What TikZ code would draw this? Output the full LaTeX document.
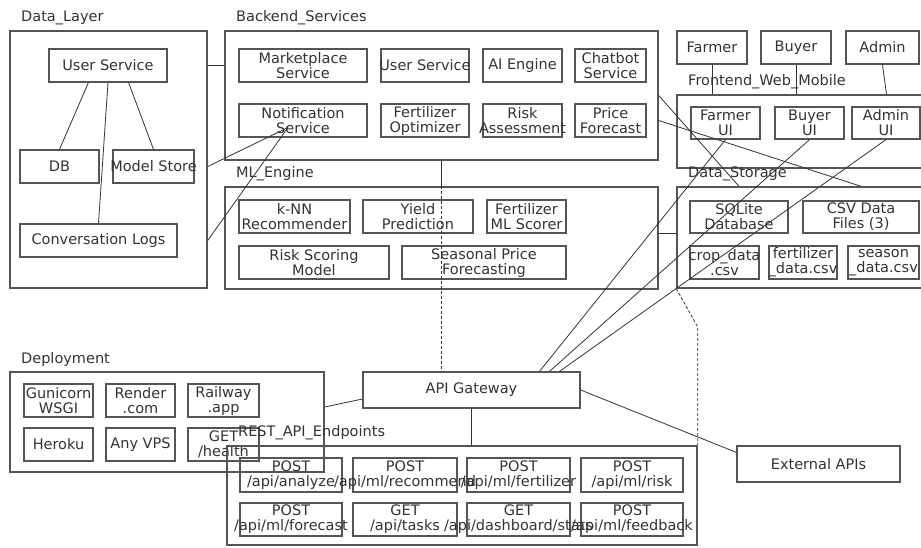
\documentclass[tikz,border=0pt]{standalone}
\usepackage{fontspec}
\setmainfont{DejaVu Sans}
\usetikzlibrary{calc}
\definecolor{inkgray}{HTML}{333333}
\definecolor{rimgray}{HTML}{555555}
\tikzset{
    svcBox/.style={rectangle, draw=rimgray, line width=1.2pt, inner sep=0pt},
    grpBox/.style={rectangle, draw=rimgray, line width=1.4pt, inner sep=0pt},
    grpTitle/.style={anchor=west, inner sep=0pt, text=inkgray},
    link/.style={draw=inkgray, line width=0.8pt},
    dashLink/.style={link, dash pattern=on 3pt off 2pt},
}
\newcommand{\svcNode}[6]{
    \node[svcBox, minimum width={#4-#2}, minimum height={#5-#3},
        label={[align=center, text=inkgray, inner sep=0pt]center:#6}] (#1) at ({(#2+#4)/2}, {(#3+#5)/2}) {};
}
\newcommand{\grpNode}[6]{
    \node[grpBox, minimum width={#4-#2}, minimum height={#5-#3}] (#1) at ({(#2+#4)/2}, {(#3+#5)/2}) {};
    \node[grpTitle] (#1T) at (#2+11, #3-13) {#6};
}

\begin{document}
\begin{tikzpicture}[x=1pt, y=-1pt, font=\fontsize{14.5}{15}\selectfont]
    \useasboundingbox (0,0) rectangle (921,547);

    % Data_Layer
    \grpNode{dl}{10}{31}{207}{288}{Data\_Layer}
    \svcNode{dlUser}{49}{49}{167}{82}{User Service}
    \svcNode{dlDb}{20}{150}{99}{183}{DB}
    \svcNode{dlStore}{113}{150}{194}{183}{Model Store}
    \svcNode{dlLogs}{20}{224}{177}{257}{Conversation Logs}

    % Backend_Services
    \grpNode{be}{225}{31}{658}{160}{Backend\_Services}
    \svcNode{beMarket}{239}{49}{367}{82}{Marketplace\\Service}
    \svcNode{beUser}{381}{49}{469}{82}{User Service}
    \svcNode{beAi}{483}{49}{562}{82}{AI Engine}
    \svcNode{beChat}{575}{49}{646}{82}{Chatbot\\Service}
    \svcNode{beNotif}{239}{104}{367}{137}{Notification\\Service}
    \svcNode{beFert}{381}{104}{469}{137}{Fertilizer\\Optimizer}
    \svcNode{beRisk}{483}{104}{562}{137}{Risk\\Assessment}
    \svcNode{bePrice}{575}{104}{646}{137}{Price\\Forecast}

    % ML_Engine
    \grpNode{ml}{225}{187}{658}{289}{ML\_Engine}
    \svcNode{mlKnn}{239}{200}{350}{233}{k-NN\\Recommender}
    \svcNode{mlYield}{363}{200}{473}{233}{Yield\\Prediction}
    \svcNode{mlFert}{487}{200}{566}{233}{Fertilizer\\ML Scorer}
    \svcNode{mlRisk}{239}{246}{389}{279}{Risk Scoring\\Model}
    \svcNode{mlSeason}{402}{246}{566}{279}{Seasonal Price\\Forecasting}

    % users and Frontend_Web_Mobile
    \svcNode{usFarmer}{677}{31}{747}{64}{Farmer}
    \svcNode{usBuyer}{761}{31}{831}{64}{Buyer}
    \svcNode{usAdmin}{846}{31}{919}{64}{Admin}
    \grpNode{fe}{677}{95}{940}{168}{Frontend\_Web\_Mobile}
    \svcNode{feFarmerUi}{691}{107}{760}{139}{Farmer\\UI}
    \svcNode{feBuyerUi}{775}{107}{844}{139}{Buyer\\UI}
    \svcNode{feAdminUi}{852}{107}{920}{139}{Admin\\UI}

    % Data_Storage
    \grpNode{ds}{677}{187}{940}{288}{Data\_Storage}
    \svcNode{dsSql}{690}{201}{788}{233}{SQLite\\Database}
    \svcNode{dsCsv}{803}{201}{919}{233}{CSV Data\\Files (3)}
    \svcNode{dsCrop}{690}{246}{759}{279}{crop\_data\\.csv}
    \svcNode{dsFert}{769}{246}{837}{279}{fertilizer\\\_data.csv}
    \svcNode{dsSeason}{848}{246}{919}{279}{season\\\_data.csv}

    % Deployment
    \grpNode{dep}{10}{372}{324}{472}{Deployment}
    \svcNode{depGuni}{24}{384}{93}{417}{Gunicorn\\WSGI}
    \svcNode{depRender}{106}{384}{175}{417}{Render\\.com}
    \svcNode{depRail}{188}{384}{259}{417}{Railway\\.app}
    \svcNode{depHeroku}{24}{428}{93}{461}{Heroku}
    \svcNode{depVps}{106}{428}{175}{461}{Any VPS}
    \svcNode{depHealth}{188}{428}{259}{461}{GET\\/health}

    % gateway and external
    \svcNode{gw}{363}{372}{580}{408}{API Gateway}
    \svcNode{ext}{737}{446}{900}{482}{External APIs}

    % REST_API_Endpoints
    \grpNode{rest}{227}{446}{697}{545}{REST\_API\_Endpoints}
    \svcNode{apiAnalyze}{240}{458}{342}{492}{POST\\/api/analyze}
    \svcNode{apiRecommend}{353}{458}{457}{492}{POST\\/api/ml/recommend}
    \svcNode{apiFert}{467}{458}{570}{492}{POST\\/api/ml/fertilizer}
    \svcNode{apiRisk}{581}{458}{683}{492}{POST\\/api/ml/risk}
    \svcNode{apiForecast}{240}{503}{342}{536}{POST\\/api/ml/forecast}
    \svcNode{apiTasks}{353}{503}{457}{536}{GET\\/api/tasks}
    \svcNode{apiStats}{467}{503}{570}{536}{GET\\/api/dashboard/stats}
    \svcNode{apiFeedback}{581}{503}{683}{536}{POST\\/api/ml/feedback}

    % links
    \draw[link] (dlUser -| dl.east) -- (dlUser -| be.west);
    \draw[link] ([xshift=40]dlUser.south west) -- (dlDb.north);
    \draw[link] ([xshift=-39]dlUser.south east) -- (dlStore.north);
    \draw[link] (dlUser.south) -- (dlLogs.north);
    \draw[link] (dlStore -| dl.east) -- ([shift={(-15,7)}]beNotif.center);
    \draw[link] (dlLogs -| dl.east) -- ([shift={(-15,7)}]beNotif.center);
    \draw[link] (be.east) -- (dsSql |- ds.north);
    \draw[link] (bePrice -| be.east) -- (dsCsv |- ds.north);
    \draw[link] (usFarmer.south) -- (usFarmer.south |- fe.north);
    \draw[link] (usBuyer.south) -- (usBuyer.south |- fe.north);
    \draw[link] (usAdmin.south) -- ([xshift=4]usAdmin.south |- fe.north);
    \draw[link] ([xshift=68]gw.north) -- (feFarmerUi.south);
    \draw[link] ([xshift=78]gw.north) -- (feBuyerUi.south);
    \draw[link] ([xshift=88]gw.north) -- (feAdminUi.south);
    \draw[link] (be.south) -- (be.south |- ml.north);
    \draw[dashLink] (be.south |- ml.north) -- (be.south |- gw.north);
    \draw[link] (ml.east |- 0,233) -- (ds.west |- 0,233);
    \draw[dashLink] (ds.south west) -- (rest.north east |- 0,327) -- (rest.north east);
    \draw[link] (dep.east |- 0,407) -- ([yshift=-9]gw.west);
    \draw[link] (gw.east) -- ([yshift=-7]ext.north west);
    \draw[link] (gw.south) -- (gw.south |- rest.north);

\end{tikzpicture}
\end{document}
